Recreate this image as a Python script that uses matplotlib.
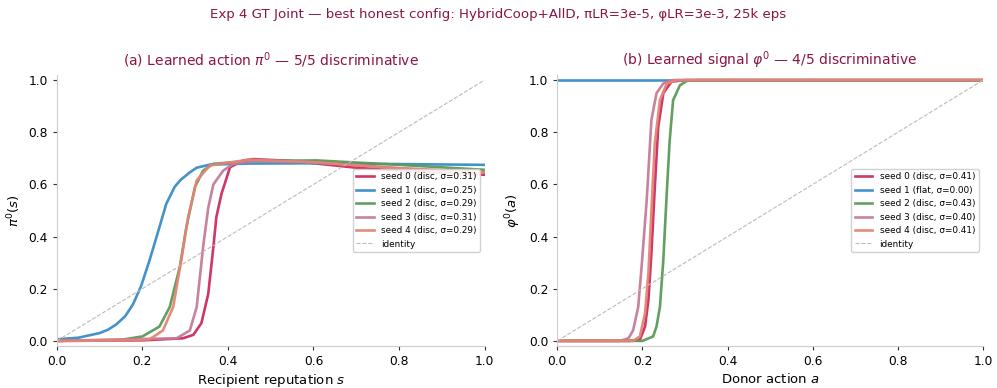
import matplotlib
matplotlib.use("Agg")
import matplotlib.pyplot as plt

# ---- panel (a): learned action pi^0(s), sampled curves per seed ----
pi_s0_x = [0.0, 0.2, 0.295, 0.319, 0.338, 0.354, 0.366, 0.373, 0.385, 0.405, 0.436, 0.46, 0.55, 0.7, 0.85, 1.0]
pi_s0_y = [0.0, 0.002, 0.01, 0.023, 0.068, 0.18, 0.36, 0.475, 0.564, 0.666, 0.692, 0.697, 0.69, 0.664, 0.648, 0.637]
pi_s1_x = [0.0, 0.05, 0.1, 0.12, 0.139, 0.16, 0.178, 0.197, 0.217, 0.237, 0.256, 0.276, 0.29, 0.31, 0.327, 0.358, 0.45, 0.6, 0.8, 1.0]
pi_s1_y = [0.006, 0.012, 0.03, 0.043, 0.063, 0.095, 0.14, 0.21, 0.31, 0.42, 0.526, 0.592, 0.618, 0.645, 0.664, 0.676, 0.68, 0.681, 0.678, 0.675]
pi_s2_x = [0.0, 0.15, 0.2, 0.24, 0.264, 0.2875, 0.303, 0.323, 0.342, 0.366, 0.45, 0.608, 0.8, 1.0]
pi_s2_y = [0.0, 0.004, 0.017, 0.055, 0.13, 0.284, 0.437, 0.59, 0.653, 0.679, 0.69, 0.692, 0.675, 0.656]
pi_s3_x = [0.0, 0.28, 0.311, 0.327, 0.342, 0.354, 0.366, 0.389, 0.4125, 0.46, 0.6, 0.8, 1.0]
pi_s3_y = [0.0, 0.01, 0.04, 0.13, 0.36, 0.51, 0.6, 0.653, 0.679, 0.69, 0.685, 0.662, 0.645]
pi_s4_x = [0.0, 0.18, 0.217, 0.248, 0.272, 0.291, 0.307, 0.327, 0.358, 0.45, 0.6, 0.8, 1.0]
pi_s4_y = [0.0, 0.002, 0.006, 0.04, 0.13, 0.31, 0.475, 0.615, 0.673, 0.695, 0.685, 0.662, 0.647]

# ---- panel (b): learned signal phi^0(a) ----
phi_s0_x = [0.0, 0.17, 0.194, 0.206, 0.214, 0.221, 0.229, 0.237, 0.249, 0.268, 0.3, 1.0]
phi_s0_y = [0.0, 0.0, 0.004, 0.055, 0.157, 0.336, 0.59, 0.82, 0.95, 0.994, 1.0, 1.0]
phi_s1_x = [0.0, 1.0]
phi_s1_y = [1.0, 1.0]
phi_s2_x = [0.0, 0.2, 0.225, 0.233, 0.241, 0.249, 0.257, 0.264, 0.272, 0.288, 0.304, 0.33, 1.0]
phi_s2_y = [0.0, 0.0, 0.017, 0.055, 0.13, 0.31, 0.566, 0.77, 0.923, 0.98, 0.997, 1.0, 1.0]
phi_s3_x = [0.0, 0.147, 0.167, 0.178, 0.19, 0.198, 0.21, 0.221, 0.233, 0.249, 0.27, 1.0]
phi_s3_y = [0.0, 0.0, 0.01, 0.04, 0.13, 0.285, 0.54, 0.847, 0.95, 0.987, 1.0, 1.0]
phi_s4_x = [0.0, 0.178, 0.194, 0.206, 0.214, 0.221, 0.229, 0.241, 0.257, 0.28, 1.0]
phi_s4_y = [0.0, 0.0, 0.017, 0.106, 0.26, 0.5, 0.757, 0.923, 0.987, 1.0, 1.0]

pi_labels = ["seed 0 (disc, σ=0.31)", "seed 1 (disc, σ=0.25)", "seed 2 (disc, σ=0.29)",
             "seed 3 (disc, σ=0.31)", "seed 4 (disc, σ=0.29)"]
phi_labels = ["seed 0 (disc, σ=0.41)", "seed 1 (flat, σ=0.00)", "seed 2 (disc, σ=0.43)",
              "seed 3 (disc, σ=0.40)", "seed 4 (disc, σ=0.41)"]

colors = ["#cc2c5e", "#3a8cc8", "#5a9a58", "#c57b98", "#e48474"]
title_color = "#8a1444"

pi_curves = [(pi_s0_x, pi_s0_y), (pi_s1_x, pi_s1_y), (pi_s2_x, pi_s2_y),
             (pi_s3_x, pi_s3_y), (pi_s4_x, pi_s4_y)]
phi_curves = [(phi_s0_x, phi_s0_y), (phi_s1_x, phi_s1_y), (phi_s2_x, phi_s2_y),
              (phi_s3_x, phi_s3_y), (phi_s4_x, phi_s4_y)]

fig = plt.figure(figsize=(9.97, 3.88), dpi=100)
ax1 = fig.add_axes([0.057, 0.108, 0.429, 0.699])
ax2 = fig.add_axes([0.559, 0.108, 0.427, 0.699])


def draw(ax, curves, labels, title, xlabel, ylabel):
    for (x, y), lab, c in zip(curves, labels, colors):
        ax.plot(x, y, color=c, lw=1.9, alpha=0.95, label=lab)
    ax.plot([0, 1], [0, 1], ls="--", color="#bbbbbb", lw=0.8, label="identity")
    ax.set_xlim(0, 1)
    ax.set_ylim(-0.02, 1.02)
    ax.set_xticks([0, 0.2, 0.4, 0.6, 0.8, 1.0])
    ax.set_yticks([0, 0.2, 0.4, 0.6, 0.8, 1.0])
    for sp in ["top", "right"]:
        ax.spines[sp].set_visible(False)
    for sp in ["left", "bottom"]:
        ax.spines[sp].set_color("#cccccc")
    ax.tick_params(labelsize=8.8, length=3, color="#333333")
    ax.set_title(title, color=title_color, fontsize=10, pad=7)
    ax.set_xlabel(xlabel, fontsize=9.5, labelpad=3)
    ax.set_ylabel(ylabel, fontsize=9.5)
    ax.legend(loc="center right", fontsize=6.4, framealpha=0.9)


draw(ax1, pi_curves, pi_labels, r"(a) Learned action $\pi^0$ — 5/5 discriminative",
     r"Recipient reputation $s$", r"$\pi^0(s)$")
draw(ax2, phi_curves, phi_labels, r"(b) Learned signal $\varphi^0$ — 4/5 discriminative",
     r"Donor action $a$", r"$\varphi^0(a)$")

fig.suptitle("Exp 4 GT Joint — best honest config: HybridCoop+AllD, πLR=3e-5, φLR=3e-3, 25k eps",
             color=title_color, fontsize=9.6, y=0.98)

fig.savefig("out.png", dpi=100)
